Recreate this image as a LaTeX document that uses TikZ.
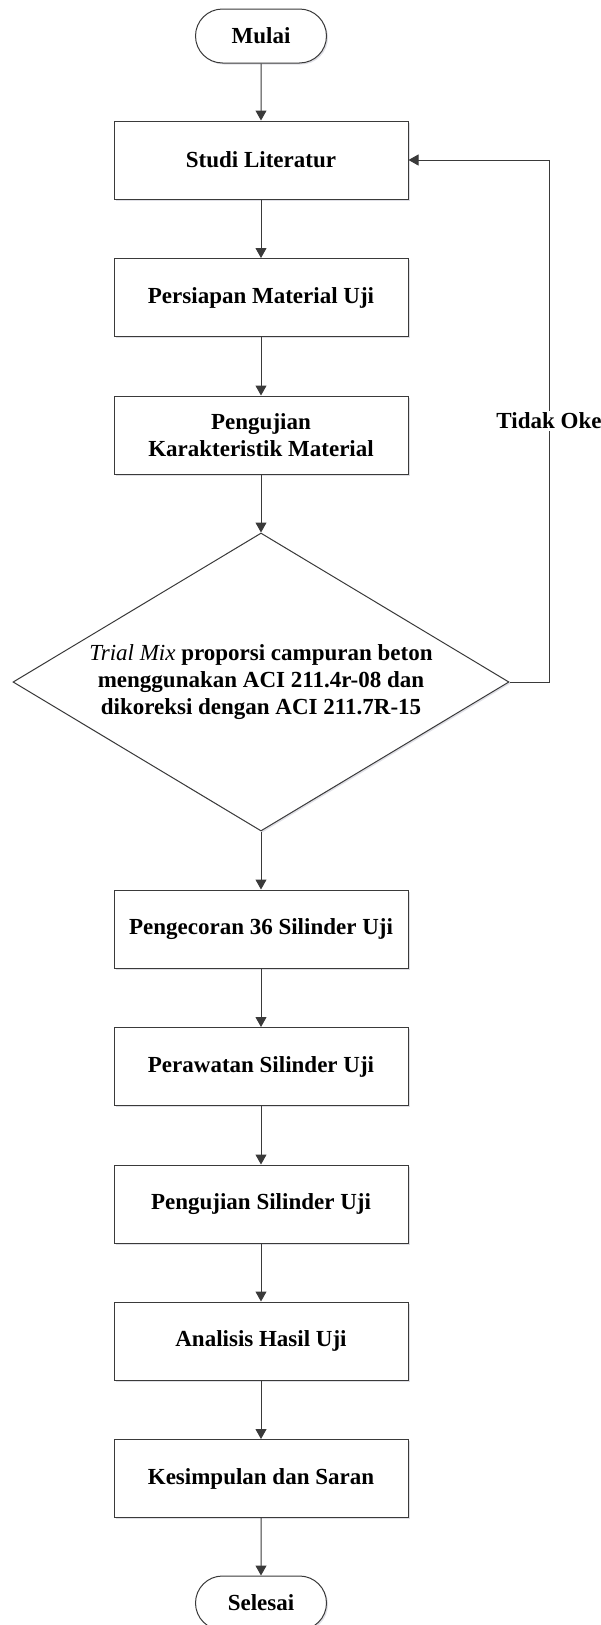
\documentclass[tikz,border=0pt]{standalone}
\usepackage{fontspec}
\setmainfont{Liberation Serif}
\usetikzlibrary{shapes.geometric,shapes.misc,arrows.meta,shadows}
\definecolor{linec}{HTML}{3A3A3A}
\begin{document}
\begin{tikzpicture}[x=1pt,y=-1pt,
  txt/.style={font=\fontsize{23}{27}\selectfont\bfseries, align=center, text=black},
  shad/.style={drop shadow={shadow xshift=1.5pt, shadow yshift=-1.5pt, fill=blue!20!black!25, opacity=0.5}},
  box/.style={txt, draw=linec, line width=1pt, fill=white, shad, minimum width=294pt, minimum height=78pt, inner sep=0pt},
  term/.style={txt, rounded rectangle, draw=linec, line width=1pt, fill=white, shad, minimum width=131pt, minimum height=54pt, inner sep=0pt},
  decision/.style={diamond, draw=linec, line width=1pt, fill=white, shad, minimum width=496pt, minimum height=298pt, inner sep=0pt},
  arr/.style={draw=linec, line width=1pt, -{Triangle[width=11pt,length=10pt]}}
]
\useasboundingbox (0,0) rectangle (601,1625);
\node[term] (start) at (261,36) {Mulai};
\node[box] (b1) at (261,160) {Studi Literatur};
\node[box] (b2) at (261,297.5) {Persiapan Material Uji};
\node[box] (b3) at (261,435) {Pengujian\\Karakteristik Material};
\node[decision] (d) at (261,682) {};
\node[txt] (dt) at (d.center) {{\mdseries\itshape Trial Mix} proporsi campuran beton\\menggunakan ACI 211.4r-08 dan\\dikoreksi dengan ACI 211.7R-15};
\node[box] (b4) at (261,929) {Pengecoran 36 Silinder Uji};
\node[box] (b5) at (261,1066.5) {Perawatan Silinder Uji};
\node[box] (b6) at (261,1204) {Pengujian Silinder Uji};
\node[box] (b7) at (261,1341) {Analisis Hasil Uji};
\node[box] (b8) at (261,1478.5) {Kesimpulan dan Saran};
\node[term] (end) at (261,1603) {Selesai};
\coordinate (fb) at (549,682);
\draw[arr] (start) -- (b1);
\draw[arr] (b1) -- (b2);
\draw[arr] (b2) -- (b3);
\draw[arr] (b3) -- (d.north);
\draw[arr] (d.south) -- (b4);
\draw[arr] (b4) -- (b5);
\draw[arr] (b5) -- (b6);
\draw[arr] (b6) -- (b7);
\draw[arr] (b7) -- (b8);
\draw[arr] (b8) -- (end);
\draw[arr] (d.east) -- (fb) |- (b1.east)
  node[txt, pos=0.25, fill=white, inner sep=2pt] (lbl) {Tidak Oke};
\end{tikzpicture}
\end{document}
